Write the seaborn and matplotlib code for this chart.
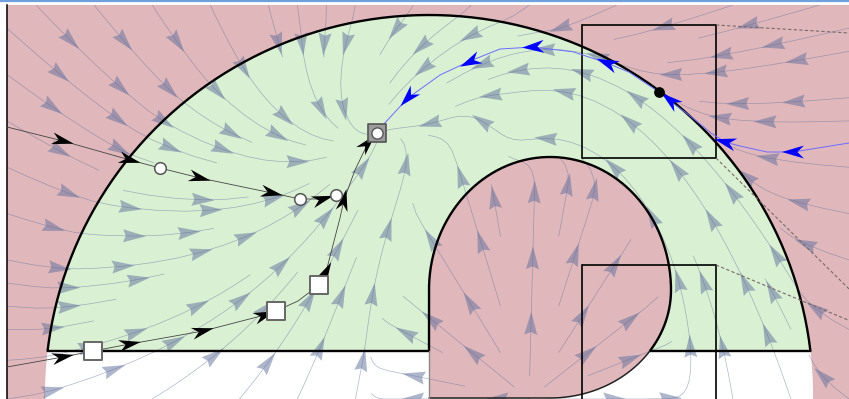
import numpy as np
import matplotlib
matplotlib.use("Agg")
import matplotlib.pyplot as plt
from matplotlib.collections import PolyCollection
from matplotlib.patches import Polygon, Rectangle, FancyArrowPatch
from matplotlib.lines import Line2D
import seaborn as sns

# ---------------- values ----------------
x_lim = (-10.55, 10.5)
y_lim = (0.0, 9.85)

outer_center = (0.0, 0.1)
outer_axes = (9.6, 9.5)
cut_y = 1.2
inner_center = (3.025, 2.725)
inner_half_w = 3.025
inner_top_h = 3.325
inner_bot_h = 2.7

goal = (-1.3, 6.65)
rot_gain = 0.45
obst_center = (3.0, 0.0)
obst_axes = (3.4, 6.05)
source = (2.5, 0.0)
source_gain = 2.5
pull_gain = 1.2

# black trajectory entering from the left (circles)
traj_a_x = [-10.55, -9.15, -7.475, -6.725, -5.725, -3.925, -3.225, -2.65, -2.325]
traj_a_y = [6.8, 6.45, 5.975, 5.775, 5.525, 5.15, 5.0, 5.0, 5.1]
traj_a_marks = [3, 6, 8]
traj_a_arrows_x = [-9.15, -7.475, -5.725, -3.925, -2.65]
traj_a_arrows_y = [6.45, 5.975, 5.525, 5.15, 5.0]

# black trajectory entering from the bottom left (squares)
traj_b_x = [-10.55, -9.15, -8.4, -7.475, -5.65, -4.1, -3.825, -3.275, -2.75,
            -2.575, -2.4, -2.225, -2.125, -1.85, -1.525, -1.3]
traj_b_y = [0.8, 1.05, 1.2, 1.375, 1.7, 2.1, 2.2, 2.45, 2.85,
            3.175, 3.85, 4.525, 4.975, 5.725, 6.4, 6.65]
traj_b_marks = [2, 6, 8]
traj_b_arrows_x = [-9.15, -7.475, -5.65, -4.1, -2.575, -2.125, -1.525]
traj_b_arrows_y = [1.05, 1.375, 1.7, 2.1, 3.175, 4.975, 6.4]

# blue trajectory coming from the right along the outer boundary
blue_x = [10.5, 9.1, 8.45, 7.775, 7.4, 7.05, 6.5, 6.025, 5.75, 5.0, 4.45,
          3.6, 2.6, 1.775, 1.025, 0.275, -0.525, -1.175]
blue_y = [6.4, 6.175, 6.175, 6.325, 6.425, 6.65, 7.1, 7.45, 7.675, 8.17, 8.4,
          8.68, 8.8, 8.75, 8.45, 8.1, 7.525, 6.825]
blue_arrows_x = [9.1, 7.4, 6.025, 4.45, 2.6, 1.025, -0.525]
blue_arrows_y = [6.175, 6.425, 7.475, 8.4, 8.8, 8.425, 7.525]
blue_dot = (5.75, 7.675)

# zoom boxes and connector lines
box_x = [3.825, 3.825]
box_y = [6.025, -1.0]
box_w = [3.35, 3.35]
box_h = [3.325, 4.35]
conn_x0 = [7.175, 7.175, 7.175]
conn_y0 = [9.35, 6.025, 3.35]
conn_x1 = [12.0, 12.0, 12.0]
conn_y1 = [9.06, 1.275, 1.34]

pink = "#e0b8bb"
green = "#daf0d3"
stream_rgba = (95 / 255, 110 / 255, 155 / 255, 0.5)


def unit(u, v):
    n = np.hypot(u, v) + 1e-12
    return u / n, v / n


def field(xx, yy):
    rx, ry = xx - goal[0], yy - goal[1]
    u = -rx - rot_gain * ry
    v = -ry + rot_gain * rx
    # modulation around the inner obstacle
    ox = (xx - obst_center[0]) / obst_axes[0]
    oy = (yy - obst_center[1]) / obst_axes[1]
    gam = np.maximum(ox ** 2 + oy ** 2, 1e-2)
    nx, ny = unit(ox / obst_axes[0], oy / obst_axes[1])
    tx, ty = -ny, nx
    vn = u * nx + v * ny
    vt = u * tx + v * ty
    ln, lt = 1 - 1 / gam, 1 + 1 / gam
    u2 = ln * vn * nx + lt * vt * tx
    v2 = ln * vn * ny + lt * vt * ty
    # pull back towards the outer safe set
    qx = (xx - outer_center[0]) / outer_axes[0]
    qy = (yy - outer_center[1]) / outer_axes[1]
    h = np.clip(qx ** 2 + qy ** 2 - 1, 0, None)
    gx, gy = unit(qx / outer_axes[0], qy / outer_axes[1])
    w = pull_gain * np.hypot(u2, v2) * h / (h + 0.1)
    u2, v2 = unit(u2 - w * gx, v2 - w * gy)
    # source inside the obstacle, leaking out on its left side
    su, sv = unit(xx - source[0], yy - source[1])
    inside = np.clip((1.15 - gam) / 0.35, 0, 1)
    left = source_gain * np.clip(1.9 - gam, 0, None) * np.clip((source[0] - xx) / 2.0, 0, 1)
    wgt = np.maximum(inside, np.clip(left, 0, 1))
    return unit((1 - wgt) * u2 + wgt * su, (1 - wgt) * v2 + wgt * sv)


def arrow_polys(ax, xs, ys, dxs, dys, length, width, notch):
    to_px = ax.transData.transform
    to_data = ax.transData.inverted().transform
    polys = []
    for x, y, dx, dy in zip(xs, ys, dxs, dys):
        p0 = to_px((x, y))
        d = to_px((x + dx * 1e-3, y + dy * 1e-3)) - p0
        d = d / np.hypot(*d)
        nrm = np.array([-d[1], d[0]])
        tip = p0 + d * length / 2
        back = p0 - d * length / 2
        pts = np.array([tip, back + nrm * width / 2, back + d * length * notch,
                        back - nrm * width / 2])
        polys.append(to_data(pts))
    return polys


def path_dirs(px, py, ax_, ay_):
    px, py = np.asarray(px), np.asarray(py)
    dxs, dys = [], []
    for x, y in zip(ax_, ay_):
        mids_x = (px[:-1] + px[1:]) / 2
        mids_y = (py[:-1] + py[1:]) / 2
        i = np.argmin((mids_x - x) ** 2 + (mids_y - y) ** 2)
        dxs.append(px[i + 1] - px[i])
        dys.append(py[i + 1] - py[i])
    return dxs, dys


sns.set_theme(style="white")
fig = plt.figure(figsize=(8.49, 3.99), dpi=100)
ax = fig.add_axes([7 / 849, 0, 842 / 849, 394 / 399])
ax.set_xlim(*x_lim)
ax.set_ylim(*y_lim)
ax.set_facecolor(pink)
for s in ["top", "right", "bottom"]:
    ax.spines[s].set_visible(False)
ax.spines["left"].set_color("black")
ax.spines["left"].set_linewidth(1.1)
ax.set_xticks([])
ax.set_yticks([])

# ---- regions ----
th = np.linspace(0, 2 * np.pi, 400)
ax.add_patch(Polygon(np.c_[outer_center[0] + outer_axes[0] * np.cos(th),
                           outer_center[1] + outer_axes[1] * np.sin(th)],
                     closed=True, fc="white", ec="none", zorder=0.5))
t0 = np.arcsin((cut_y - outer_center[1]) / outer_axes[1])
tg = np.linspace(t0, np.pi - t0, 300)
arc_x = outer_center[0] + outer_axes[0] * np.cos(tg)
arc_y = outer_center[1] + outer_axes[1] * np.sin(tg)
ax.add_patch(Polygon(np.c_[arc_x, arc_y], closed=True, fc=green, ec="none", zorder=0.6))

tt = np.linspace(np.pi, 0, 200)
top_x = inner_center[0] + inner_half_w * np.cos(tt)
top_y = inner_center[1] + inner_top_h * np.sin(tt)
tb = np.linspace(0, -np.pi / 2, 120)
bot_x = inner_center[0] + inner_half_w * np.cos(tb)
bot_y = inner_center[1] + inner_bot_h * np.sin(tb)
bottom_y = inner_center[1] - inner_bot_h
inner_x = np.r_[top_x, bot_x, 0.0]
inner_y = np.r_[top_y, bot_y, bottom_y]
ax.add_patch(Polygon(np.c_[inner_x, inner_y], closed=True, fc=pink, ec="none", zorder=0.7))

# ---- streamlines ----
gx_, gy_ = np.linspace(*x_lim, 240), np.linspace(*y_lim, 120)
GX, GY = np.meshgrid(gx_, gy_)
U, V = field(GX, GY)
sp = ax.streamplot(gx_, gy_, U, V, density=(1.0, 0.62), color=stream_rgba,
                   linewidth=0.5, arrowstyle="-", arrowsize=0.1, zorder=1)
for p in list(ax.patches):
    if isinstance(p, FancyArrowPatch):
        p.remove()

to_px = ax.transData.transform
sx, sy, sdx, sdy = [], [], [], []
spacing = 66.0
for seg in sp.lines.get_segments():
    if len(seg) < 3:
        continue
    p = to_px(seg)
    ds = np.hypot(*np.diff(p, axis=0).T)
    s = np.r_[0, np.cumsum(ds)]
    total = s[-1]
    if total < 30:
        continue
    if total < spacing:
        stops = [total / 2]
    else:
        n = int(total // spacing)
        off = (total - (n - 1) * spacing) / 2
        stops = off + spacing * np.arange(n)
    for st in stops:
        i = min(np.searchsorted(s, st), len(seg) - 1)
        i = max(i, 1)
        sx.append(seg[i, 0])
        sy.append(seg[i, 1])
        sdx.append(seg[i, 0] - seg[i - 1, 0])
        sdy.append(seg[i, 1] - seg[i - 1, 1])
ax.add_collection(PolyCollection(arrow_polys(ax, sx, sy, sdx, sdy, 23, 13, 0.12),
                                 fc=stream_rgba, ec="none", zorder=1.1))

# ---- boundaries ----
ax.plot(arc_x, arc_y, color="black", lw=1.7, zorder=2)
xr = inner_center[0] + inner_half_w * np.sqrt(1 - ((cut_y - inner_center[1]) / inner_bot_h) ** 2)
xl = outer_center[0] + outer_axes[0] * np.cos(t0)
ax.plot([-xl, 0], [cut_y, cut_y], color="black", lw=1.7, zorder=2)
ax.plot([xr, xl], [cut_y, cut_y], color="black", lw=1.7, zorder=2)
up = bot_y >= cut_y
ax.plot(np.r_[0, top_x, bot_x[up]], np.r_[cut_y, top_y, bot_y[up]],
        color="black", lw=1.7, zorder=2)
ax.plot(np.r_[xr, bot_x[~up], 0], np.r_[cut_y, bot_y[~up], bottom_y],
        color="#222222", lw=1.1, zorder=2)
ax.plot([0, 0], [bottom_y, cut_y], color="#888888", lw=1.0, zorder=2)

for bx, by, bw, bh in zip(box_x, box_y, box_w, box_h):
    ax.add_patch(Rectangle((bx, by), bw, bh, fill=False, ec="black", lw=1.2, zorder=2.5))
for x0, y0, x1, y1 in zip(conn_x0, conn_y0, conn_x1, conn_y1):
    ax.plot([x0, x1], [y0, y1], color="#7a6a6a", lw=0.8, ls=(0, (3, 2)), zorder=2.5)

# ---- trajectories ----
sns.lineplot(x=traj_a_x, y=traj_a_y, sort=False, estimator=None, color="#444444",
             lw=0.6, ax=ax, zorder=3)
sns.lineplot(x=traj_b_x, y=traj_b_y, sort=False, estimator=None, color="#444444",
             lw=0.6, ax=ax, zorder=3)
sns.lineplot(x=blue_x, y=blue_y, sort=False, estimator=None, color="#6b6bff",
             lw=0.7, ax=ax, zorder=3)

dx, dy = path_dirs(traj_a_x, traj_a_y, traj_a_arrows_x, traj_a_arrows_y)
polys = arrow_polys(ax, traj_a_arrows_x, traj_a_arrows_y, dx, dy, 22, 12, 0.3)
dx, dy = path_dirs(traj_b_x, traj_b_y, traj_b_arrows_x, traj_b_arrows_y)
polys += arrow_polys(ax, traj_b_arrows_x, traj_b_arrows_y, dx, dy, 22, 12, 0.3)
ax.add_collection(PolyCollection(polys, fc="black", ec="none", zorder=3.2))
dx, dy = path_dirs(blue_x, blue_y, blue_arrows_x, blue_arrows_y)
ax.add_collection(PolyCollection(arrow_polys(ax, blue_arrows_x, blue_arrows_y, dx, dy, 22, 13, 0.3),
                                 fc="#0000ff", ec="none", zorder=3.2))

sns.scatterplot(x=[traj_a_x[i] for i in traj_a_marks], y=[traj_a_y[i] for i in traj_a_marks],
                marker="o", s=70, color="white", edgecolor="#555555", linewidth=1.1,
                ax=ax, zorder=4)
sns.scatterplot(x=[traj_b_x[i] for i in traj_b_marks], y=[traj_b_y[i] for i in traj_b_marks],
                marker="s", s=150, color="white", edgecolor="#666666", linewidth=1.4,
                ax=ax, zorder=4)
ax.scatter([goal[0]], [goal[1]], marker="s", s=150, color="#9c9c9c", edgecolor="#555555",
           linewidth=1.2, zorder=4.1)
ax.scatter([goal[0]], [goal[1]], marker="o", s=65, color="white", edgecolor="#555555",
           linewidth=1.0, zorder=4.2)
ax.scatter([blue_dot[0]], [blue_dot[1]], marker="o", s=45, color="black", zorder=4.2)

ax.set_xlim(*x_lim)
ax.set_ylim(*y_lim)
fig.add_artist(Line2D([0, 1], [1 - 1.2 / 399, 1 - 1.2 / 399], color="#6f9fdc", lw=1.6))

fig.savefig("out.png", dpi=100)
